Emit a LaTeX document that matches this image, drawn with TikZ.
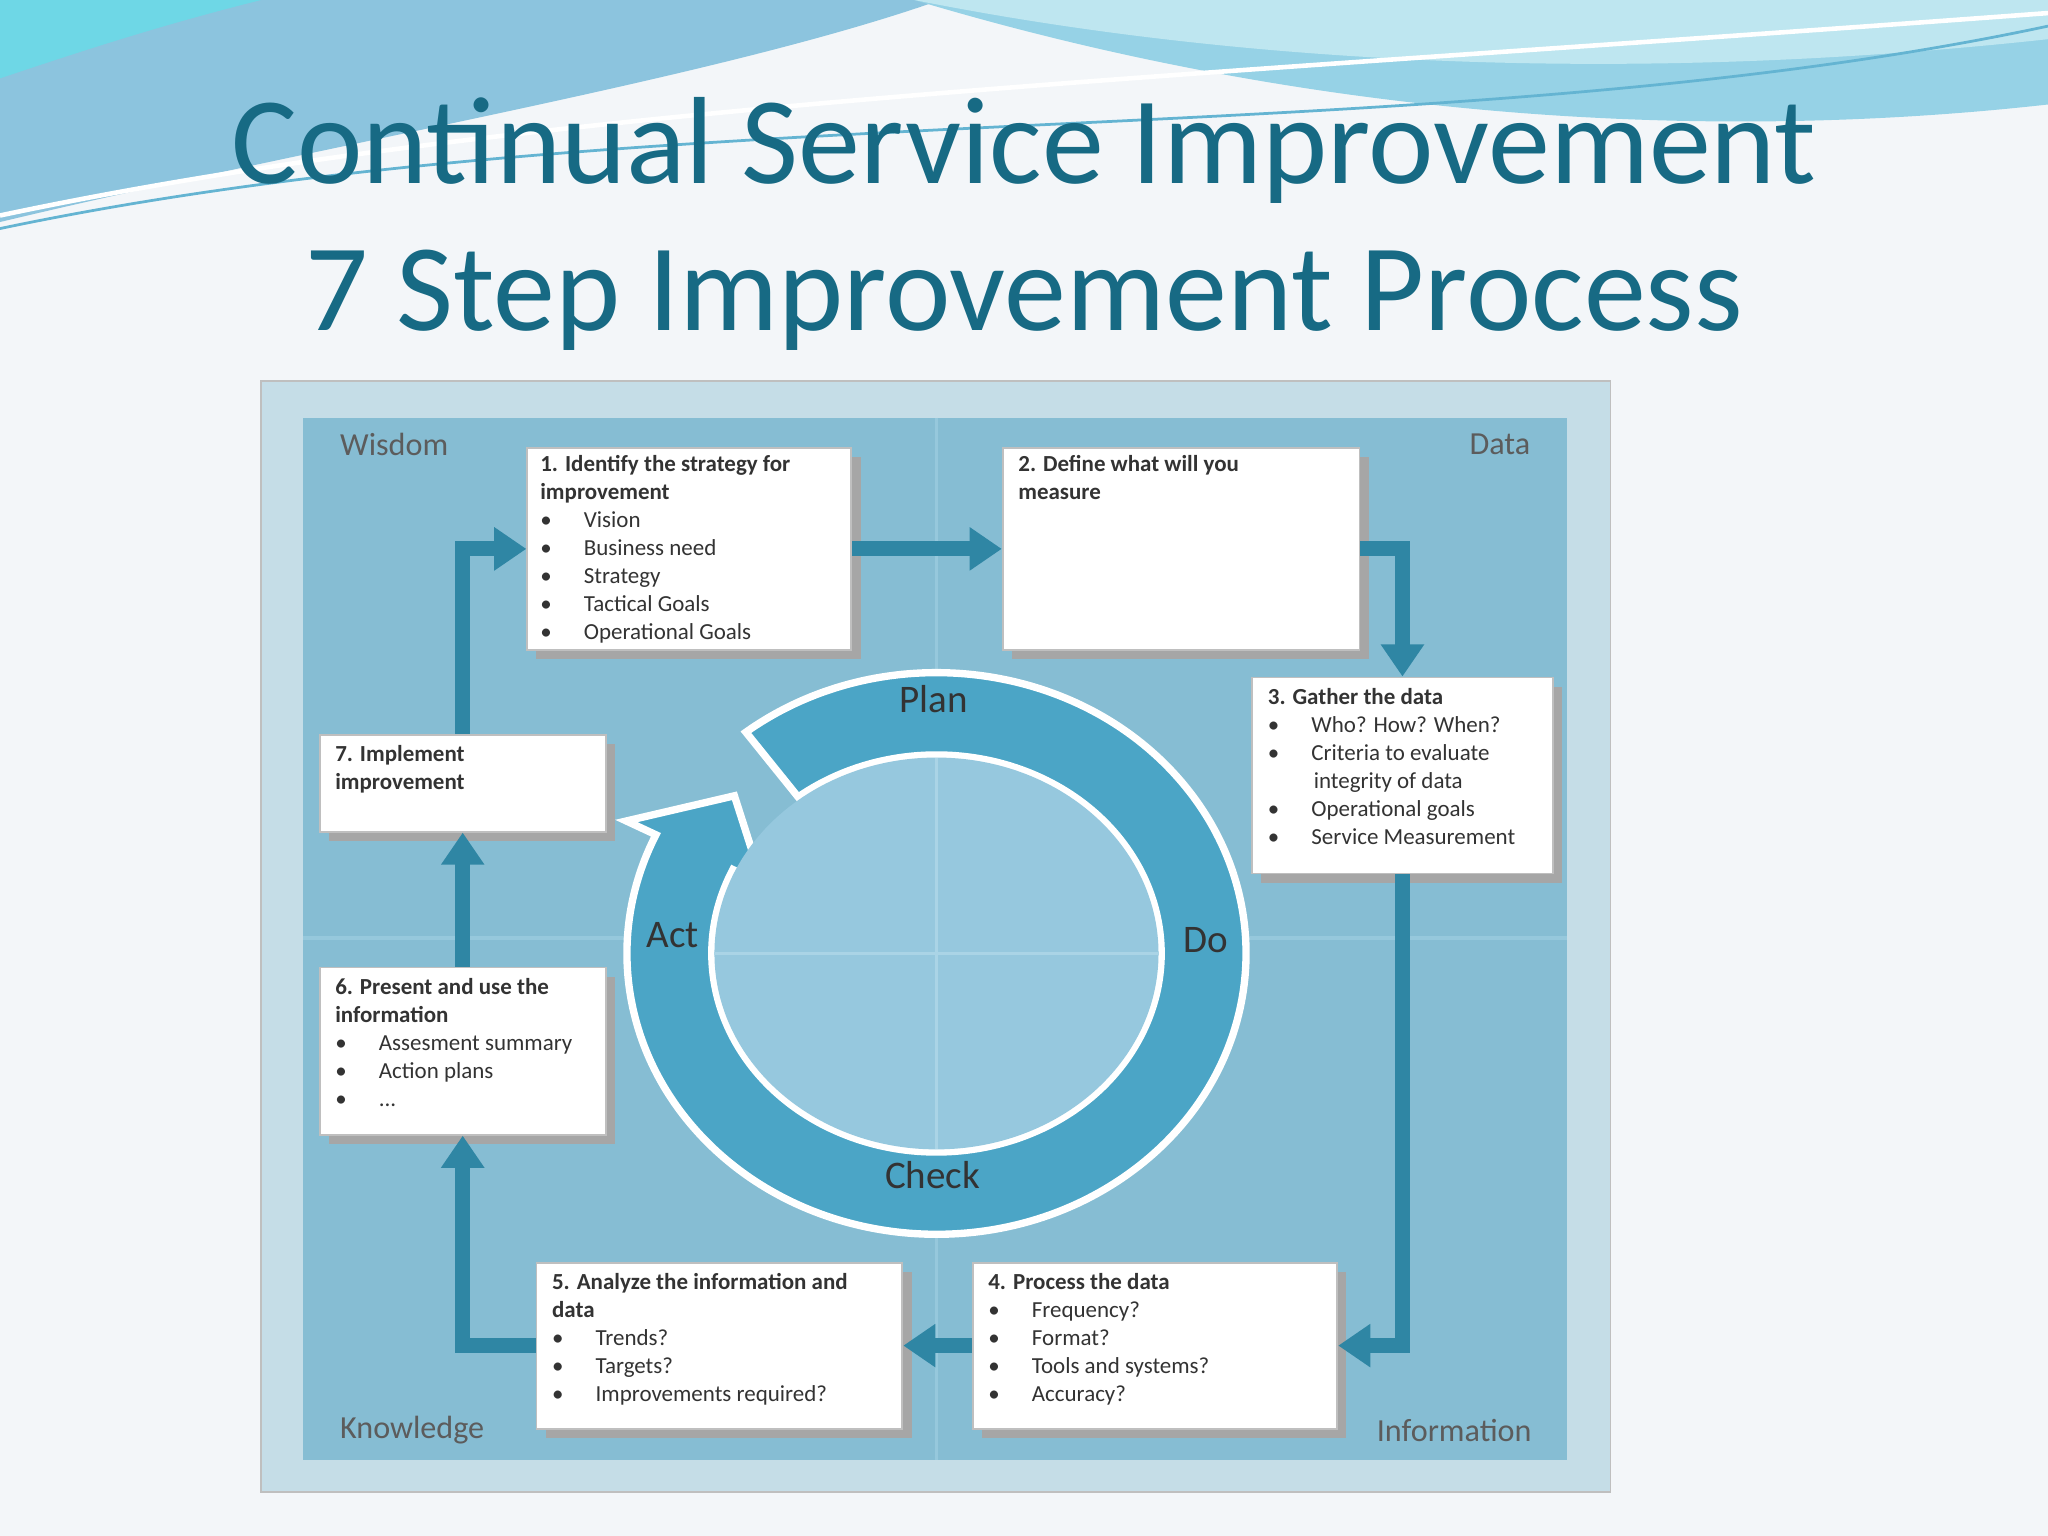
\documentclass[tikz,border=0pt]{standalone}
\usepackage{fontspec}
\setmainfont{Carlito}
\usetikzlibrary{arrows.meta,shadows}
\definecolor{ttl}{HTML}{176A84}
\definecolor{frm}{HTML}{C5DDE7}
\definecolor{inner}{HTML}{86BDD3}
\definecolor{arw}{HTML}{2F86A4}
\definecolor{ring}{HTML}{4BA5C6}
\definecolor{txt}{HTML}{333333}
\definecolor{bgc}{HTML}{F3F6F9}
\definecolor{wavea}{HTML}{8CC4DE}
\definecolor{waveb}{HTML}{6ED7E6}
\definecolor{wavec}{HTML}{96D2E6}
\definecolor{waved}{HTML}{BEE6F0}
\definecolor{wline}{HTML}{64B4D2}
\definecolor{qline}{HTML}{96C8DC}
\definecolor{ringin}{HTML}{96C8DE}
\definecolor{qline2}{HTML}{AAD4E6}
\tikzset{
 box/.style={draw=gray!50,fill=white,anchor=north west,inner sep=0pt,drop shadow={shadow xshift=2pt,shadow yshift=-2pt,fill=gray!70,opacity=1}},
 btxt/.style={anchor=north west,font=\fontsize{5}{6.1}\selectfont,text=txt,align=left,inner sep=0pt},
 flow/.style={draw=arw,line width=3.3pt,-{Triangle[length=7pt,width=9pt]}},
 corner/.style={font=\fontsize{7}{8}\selectfont,text=txt!80},
 pdca/.style={font=\fontsize{8.5}{9}\selectfont,text=txt}
}
\newcommand{\bl}{\textbullet\hspace{7pt}}
\begin{document}
\begin{tikzpicture}[x=0.01cm,y=-0.01cm]
\useasboundingbox (0,0) rectangle (1568,1176);
\fill[bgc] (0,0) rectangle (1568,1176);
% top waves
\fill[wavea] (0,0) -- (720,0) .. controls (550,60) and (250,110) .. (0,170) -- cycle;
\fill[waveb] (0,60) .. controls (60,40) and (120,20) .. (200,0) -- (0,0) -- cycle;
\fill[wavec] (700,0) -- (1568,0) -- (1568,80) .. controls (1300,110) and (1000,90) .. (700,0) -- cycle;
\fill[waved] (700,0) .. controls (900,40) and (1200,70) .. (1568,30) -- (1568,0) -- cycle;
\draw[white,line width=1pt] (0,165) .. controls (400,80) and (900,60) .. (1568,10);
\draw[wline,line width=0.6pt] (0,175) .. controls (500,70) and (1100,120) .. (1568,20);
\node[font=\fontsize{27}{30}\selectfont,text=ttl] (t1) at (784,115) {Continual Service Improvement};
\node[font=\fontsize{27}{30}\selectfont,text=ttl] (t2) at (784,230) {7 Step Improvement Process};
% frame
\filldraw[fill=frm,draw=gray!50] (200,292) rectangle (1233,1142);
\fill[inner] (232,320) rectangle (1200,1118);
\draw[qline,line width=0.8pt] (717,320) -- (717,1118) (232,718) -- (1200,718);
\node[corner,anchor=west] (w) at (248,340) {Wisdom};
\node[corner,anchor=east] (d) at (1184,340) {Data};
\node[corner,anchor=west] (k) at (248,1095) {Knowledge};
\node[corner,anchor=east] (i) at (1185,1095) {Information};
% ring
\begin{scope}[shift={(717,730)},yscale=-1]
\filldraw[fill=ring,draw=white,line width=1.6pt]
 (128:237 and 215) arc[start angle=128,end angle=-205,x radius=237,y radius=215]
 -- (-205:262 and 240) -- (-221:205 and 184) -- (-205:147 and 127) -- (-205:172 and 152)
 arc[start angle=-205,end angle=128,x radius=172,y radius=152] -- cycle;
\fill[ringin] (0,0) ellipse[x radius=170,y radius=150];
\draw[qline2,line width=0.8pt] (-170,0) -- (170,0) (0,-150) -- (0,150);
\end{scope}
\node[pdca] (pl) at (715,535) {Plan};
\node[pdca] (do) at (923,720) {Do};
\node[pdca] (ch) at (714,900) {Check};
\node[pdca] (ac) at (515,716) {Act};
% boxes
\node[box,minimum width=2.48cm,minimum height=1.55cm] (b1) at (403,342) {};
\node[box,minimum width=2.73cm,minimum height=1.55cm] (b2) at (767,342) {};
\node[box,minimum width=2.30cm,minimum height=1.50cm] (b3) at (958,518) {};
\node[box,minimum width=2.79cm,minimum height=1.27cm] (b4) at (744,966) {};
\node[box,minimum width=2.80cm,minimum height=1.27cm] (b5) at (410,966) {};
\node[box,minimum width=2.19cm,minimum height=1.28cm] (b6) at (244,740) {};
\node[box,minimum width=2.19cm,minimum height=0.74cm] (b7) at (244,562) {};
\node[btxt] (x1) at (413,348) {\textbf{1. Identify the strategy for}\\\textbf{improvement}\\\bl Vision\\\bl Business need\\\bl Strategy\\\bl Tactical Goals\\\bl Operational Goals};
\node[btxt] (x2) at (779,348) {\textbf{2. Define what will you}\\\textbf{measure}};
\node[btxt] (x3) at (970,526) {\textbf{3. Gather the data}\\\bl Who? How? When?\\\bl Criteria to evaluate\\\hspace{10pt}integrity of data\\\bl Operational goals\\\bl Service Measurement};
\node[btxt] (x4) at (756,974) {\textbf{4. Process the data}\\\bl Frequency?\\\bl Format?\\\bl Tools and systems?\\\bl Accuracy?};
\node[btxt] (x5) at (422,974) {\textbf{5. Analyze the information and}\\\textbf{data}\\\bl Trends?\\\bl Targets?\\\bl Improvements required?};
\node[btxt] (x6) at (256,748) {\textbf{6. Present and use the}\\\textbf{information}\\\bl Assesment summary\\\bl Action plans\\\bl ...};
\node[btxt] (x7) at (256,570) {\textbf{7. Implement}\\\textbf{improvement}};
% flow arrows
\draw[flow] (b1.east) -- (b2.west);
\draw[flow] (b2.east) -| (b3.north);
\draw[flow] (b3.south) |- (b4.east);
\draw[flow] (b4.west) -- (b5.east);
\draw[flow] (b5.west) -| (b6.south);
\draw[flow] (b6.north) -- (b7.south);
\draw[flow] (b7.north) |- (b1.west);
\end{tikzpicture}
\end{document}
